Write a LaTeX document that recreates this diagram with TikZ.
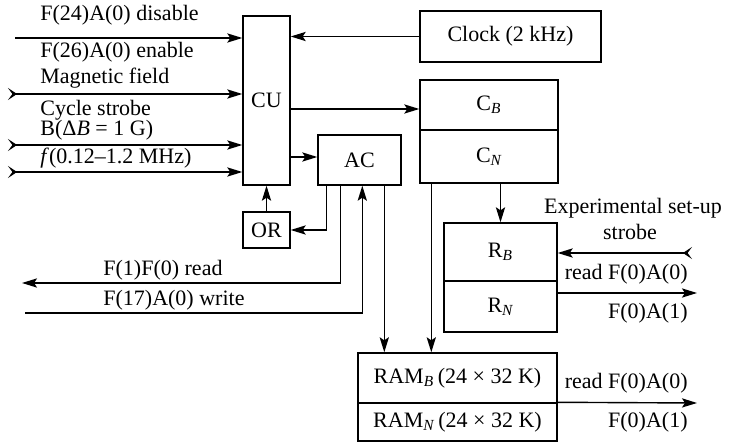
\documentclass[tikz,border=0pt]{standalone}
\usepackage{fontspec}
\setmainfont{Liberation Serif}
\usetikzlibrary{arrows.meta}

\tikzset{
  blk/.style={draw,line width=0.7pt,inner sep=0pt},
  sig/.style={line width=0.7pt,-{Stealth[length=7.5pt,width=4.6pt,inset=1.5pt]}},
  tailsig/.style={line width=0.7pt,{Stealth[reversed,length=4.5pt,width=6pt,inset=2.2pt]}-{Stealth[length=7.5pt,width=4.6pt,inset=1.5pt]}},
  lbl/.style={inner sep=0pt,anchor=west},
  rlbl/.style={inner sep=0pt,anchor=east},
}

\begin{document}
\begin{tikzpicture}[x=0.5pt,y=-0.5pt,every node/.style={font=\fontsize{11}{13}\selectfont}]
  \useasboundingbox (0,0) rectangle (741,444);
  % blocks
  \node[blk,minimum width=23.5pt,minimum height=84.5pt] (cu) at (266.5,100.5) {CU};
  \node[blk,minimum width=90.5pt,minimum height=25.5pt] (clock) at (510.5,36.5) {Clock (2 kHz)};
  \node[blk,minimum width=69pt,minimum height=25pt] (cb) at (489,105) {C\textsubscript{\itshape B}};
  \node[blk,minimum width=69pt,minimum height=26.5pt] (cn) at (489,156.5) {C\textsubscript{\itshape N}};
  \node[blk,minimum width=41.5pt,minimum height=25pt] (ac) at (359.5,160) {AC};
  \node[blk,minimum width=23.5pt,minimum height=18pt] (or) at (266.5,230) {OR};
  \node[blk,minimum width=56.5pt,minimum height=29pt] (rb) at (500.5,252) {R\textsubscript{\itshape B}};
  \node[blk,minimum width=56.5pt,minimum height=25.5pt] (rn) at (500.5,306.5) {R\textsubscript{\itshape N}};
  \node[blk,minimum width=99.5pt,minimum height=25pt] (ramb) at (457.5,378) {RAM\textsubscript{\itshape B}\,(24 × 32 K)};
  \node[blk,minimum width=99.5pt,minimum height=19pt] (ramn) at (457.5,422) {RAM\textsubscript{\itshape N}\,(24 × 32 K)};
  % inputs to CU
  \coordinate (in1) at (15,38);
  \coordinate (in2) at (8,94);
  \coordinate (in3) at (8,145);
  \coordinate (in4) at (8,172);
  \draw[sig] (in1) -- (in1 -| cu.west);
  \draw[tailsig] (in2) -- (in2 -| cu.west);
  \draw[tailsig] (in3) -- (in3 -| cu.west);
  \draw[tailsig] (in4) -- (in4 -| cu.west);
  \node[lbl] (l1) at (40,15) {F(24)A(0) disable};
  \node[lbl] (l2) at (40,52) {F(26)A(0) enable};
  \node[lbl] (l3) at (40,78) {Magnetic field};
  \node[lbl] (l4) at (40,110) {Cycle strobe};
  \node[lbl] (l5) at (40,130) {B(Δ\textit{B} = 1 G)};
  \node[lbl] (l6) at (40,158) {\textit{f}(0.12–1.2 MHz)};
  % control unit links
  \draw[sig] (clock.west) -- (clock.west -| cu.east);
  \draw[sig] ([yshift=-2pt]cb.west -| cu.east) -- ([yshift=-2pt]cb.west);
  \draw[sig] ([yshift=1.5pt]ac.west -| cu.east) -- ([yshift=1.5pt]ac.west);
  \draw[sig] (or.north) -- (cu.south);
  \draw[sig] ([xshift=4.5pt]ac.south west) |- (or.east);
  % read / write
  \coordinate (rd) at (22,283);
  \coordinate (wr) at (25,313);
  \draw[sig] ([xshift=11.5pt]ac.south west) |- (rd);
  \draw[sig] (wr) -| ([xshift=22.5pt]ac.south west);
  \node[lbl] (l7) at (103,270) {F(1)F(0) read};
  \node[lbl] (l8) at (103,300) {F(17)A(0) write};
  % to memory
  \draw[sig] ([xshift=33.5pt]ac.south west) -- ([xshift=33.5pt]ac.south west |- ramb.north);
  \draw[sig] ([xshift=6pt]cn.south west) -- ([xshift=6pt]cn.south west |- ramb.north);
  \draw[sig] (cn.south -| rb.north) -- (rb.north);
  % registers
  \coordinate (st) at (692,253);
  \draw[tailsig] (st) -- (st -| rb.east);
  \node[anchor=center,inner sep=0pt] (l9) at (633,208) {Experimental set-up};
  \node[anchor=center,inner sep=0pt] (l10) at (630,232) {strobe};
  \coordinate (rout) at (697,293);
  \draw[sig] (rout -| rn.east) -- (rout);
  \node[rlbl] (l11) at (688,274) {read F(0)A(0)};
  \node[rlbl] (l12) at (688,313) {F(0)A(1)};
  \coordinate (mout) at (697,403);
  \draw[sig] (ramn.north east) -- (mout);
  \node[rlbl] (l13) at (688,383) {read F(0)A(0)};
  \node[rlbl] (l14) at (688,422) {F(0)A(1)};
\end{tikzpicture}
\end{document}
